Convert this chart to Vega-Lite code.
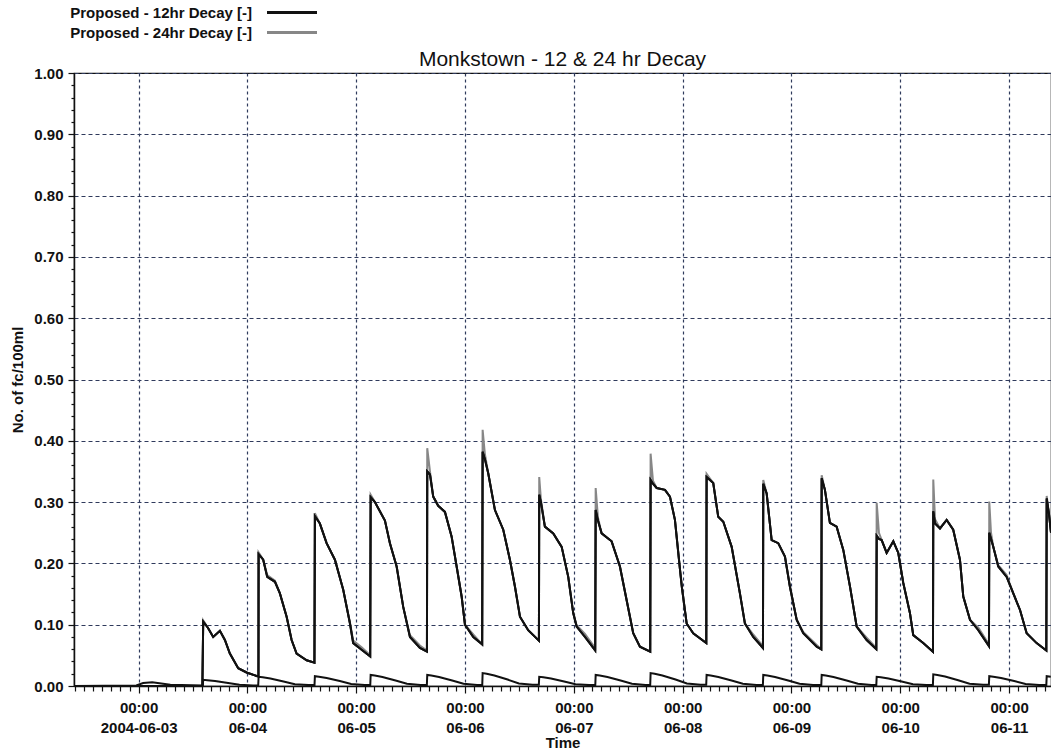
{
  "$schema": "https://vega.github.io/schema/vega-lite/v6.json",
  "autosize": {"type": "none"},
  "padding": {"left": 74, "top": 73, "right": 0, "bottom": 66},
  "width": 977,
  "height": 613,
  "background": "white",
  "title": {
    "text": "Monkstown - 12 & 24 hr Decay",
    "font": "Liberation Sans",
    "fontSize": 21,
    "fontWeight": "normal",
    "color": "#111",
    "anchor": "middle",
    "frame": "group",
    "offset": -69
  },
  "config": {
    "view": {"stroke": "#111", "strokeWidth": 1.2},
    "axis": {
      "labelFont": "Liberation Sans",
      "titleFont": "Liberation Sans",
      "labelColor": "#111",
      "titleColor": "#111",
      "tickColor": "#111",
      "domainColor": "#111"
    }
  },
  "datasets": {
    "decay": [
      {"t":"2004-06-02T09:45","d12":0,"d24":0},
      {"t":"2004-06-03T14:04","d12":0,"d24":0},
      {"t":"2004-06-03T14:15","d12":0.105,"d24":0.107},
      {"t":"2004-06-03T15:17","d12":0.095,"d24":0.095},
      {"t":"2004-06-03T16:27","d12":0.080,"d24":0.080},
      {"t":"2004-06-03T17:56","d12":0.090,"d24":0.090},
      {"t":"2004-06-03T19:02","d12":0.075,"d24":0.075},
      {"t":"2004-06-03T20:08","d12":0.053,"d24":0.053},
      {"t":"2004-06-03T21:58","d12":0.029,"d24":0.029},
      {"t":"2004-06-03T23:49","d12":0.022,"d24":0.022},
      {"t":"2004-06-04T02:10","d12":0.016,"d24":0.016},
      {"t":"2004-06-04T02:26","d12":0.016,"d24":0.016},
      {"t":"2004-06-04T02:28","d12":0.215,"d24":0.218},
      {"t":"2004-06-04T03:29","d12":0.206,"d24":0.206},
      {"t":"2004-06-04T04:22","d12":0.178,"d24":0.181},
      {"t":"2004-06-04T06:04","d12":0.170,"d24":0.172},
      {"t":"2004-06-04T07:10","d12":0.151,"d24":0.151},
      {"t":"2004-06-04T08:39","d12":0.113,"d24":0.113},
      {"t":"2004-06-04T09:45","d12":0.075,"d24":0.075},
      {"t":"2004-06-04T10:51","d12":0.053,"d24":0.053},
      {"t":"2004-06-04T13:04","d12":0.042,"d24":0.042},
      {"t":"2004-06-04T14:47","d12":0.038,"d24":0.038},
      {"t":"2004-06-04T14:53","d12":0.277,"d24":0.282},
      {"t":"2004-06-04T15:59","d12":0.265,"d24":0.265},
      {"t":"2004-06-04T17:28","d12":0.233,"d24":0.233},
      {"t":"2004-06-04T19:18","d12":0.206,"d24":0.206},
      {"t":"2004-06-04T21:08","d12":0.157,"d24":0.157},
      {"t":"2004-06-04T22:37","d12":0.102,"d24":0.104},
      {"t":"2004-06-04T23:20","d12":0.070,"d24":0.074},
      {"t":"2004-06-05T01:11","d12":0.059,"d24":0.063},
      {"t":"2004-06-05T03:05","d12":0.048,"d24":0.050},
      {"t":"2004-06-05T03:11","d12":0.308,"d24":0.312},
      {"t":"2004-06-05T04:07","d12":0.300,"d24":0.300},
      {"t":"2004-06-05T06:20","d12":0.270,"d24":0.270},
      {"t":"2004-06-05T07:26","d12":0.233,"d24":0.233},
      {"t":"2004-06-05T08:55","d12":0.195,"d24":0.195},
      {"t":"2004-06-05T10:22","d12":0.129,"d24":0.129},
      {"t":"2004-06-05T11:51","d12":0.080,"d24":0.083},
      {"t":"2004-06-05T14:03","d12":0.062,"d24":0.066},
      {"t":"2004-06-05T15:36","d12":0.056,"d24":0.058},
      {"t":"2004-06-05T15:40","d12":0.350,"d24":0.388},
      {"t":"2004-06-05T16:16","d12":0.345,"d24":0.350},
      {"t":"2004-06-05T16:59","d12":0.309,"d24":0.309},
      {"t":"2004-06-05T18:05","d12":0.294,"d24":0.294},
      {"t":"2004-06-05T19:34","d12":0.284,"d24":0.284},
      {"t":"2004-06-05T21:02","d12":0.244,"d24":0.244},
      {"t":"2004-06-05T22:09","d12":0.195,"d24":0.195},
      {"t":"2004-06-05T23:15","d12":0.146,"d24":0.146},
      {"t":"2004-06-05T23:59","d12":0.100,"d24":0.100},
      {"t":"2004-06-06T01:49","d12":0.080,"d24":0.084},
      {"t":"2004-06-06T03:47","d12":0.068,"d24":0.068},
      {"t":"2004-06-06T03:53","d12":0.382,"d24":0.418},
      {"t":"2004-06-06T04:23","d12":0.370,"d24":0.378},
      {"t":"2004-06-06T05:07","d12":0.347,"d24":0.347},
      {"t":"2004-06-06T06:36","d12":0.287,"d24":0.287},
      {"t":"2004-06-06T08:26","d12":0.255,"d24":0.255},
      {"t":"2004-06-06T09:54","d12":0.206,"d24":0.206},
      {"t":"2004-06-06T11:01","d12":0.162,"d24":0.162},
      {"t":"2004-06-06T12:07","d12":0.113,"d24":0.113},
      {"t":"2004-06-06T13:56","d12":0.091,"d24":0.091},
      {"t":"2004-06-06T16:18","d12":0.074,"d24":0.074},
      {"t":"2004-06-06T16:22","d12":0.312,"d24":0.341},
      {"t":"2004-06-06T16:44","d12":0.300,"d24":0.305},
      {"t":"2004-06-06T17:37","d12":0.260,"d24":0.260},
      {"t":"2004-06-06T19:28","d12":0.249,"d24":0.249},
      {"t":"2004-06-06T21:19","d12":0.227,"d24":0.227},
      {"t":"2004-06-06T22:46","d12":0.178,"d24":0.178},
      {"t":"2004-06-06T23:52","d12":0.119,"d24":0.119},
      {"t":"2004-06-07T00:37","d12":0.097,"d24":0.099},
      {"t":"2004-06-07T02:27","d12":0.080,"d24":0.085},
      {"t":"2004-06-07T04:43","d12":0.058,"d24":0.062},
      {"t":"2004-06-07T04:49","d12":0.287,"d24":0.323},
      {"t":"2004-06-07T05:19","d12":0.270,"d24":0.275},
      {"t":"2004-06-07T06:08","d12":0.249,"d24":0.249},
      {"t":"2004-06-07T08:20","d12":0.236,"d24":0.236},
      {"t":"2004-06-07T10:10","d12":0.195,"d24":0.195},
      {"t":"2004-06-07T11:39","d12":0.140,"d24":0.140},
      {"t":"2004-06-07T13:06","d12":0.086,"d24":0.086},
      {"t":"2004-06-07T14:35","d12":0.064,"d24":0.064},
      {"t":"2004-06-07T16:51","d12":0.056,"d24":0.056},
      {"t":"2004-06-07T16:56","d12":0.336,"d24":0.379},
      {"t":"2004-06-07T17:27","d12":0.330,"d24":0.335},
      {"t":"2004-06-07T18:16","d12":0.323,"d24":0.323},
      {"t":"2004-06-07T20:06","d12":0.320,"d24":0.320},
      {"t":"2004-06-07T21:12","d12":0.309,"d24":0.309},
      {"t":"2004-06-07T22:18","d12":0.271,"d24":0.271},
      {"t":"2004-06-07T23:25","d12":0.190,"d24":0.190},
      {"t":"2004-06-07T23:51","d12":0.160,"d24":0.160},
      {"t":"2004-06-08T00:53","d12":0.102,"d24":0.102},
      {"t":"2004-06-08T02:20","d12":0.086,"d24":0.086},
      {"t":"2004-06-08T05:13","d12":0.070,"d24":0.070},
      {"t":"2004-06-08T05:17","d12":0.341,"d24":0.346},
      {"t":"2004-06-08T06:45","d12":0.331,"d24":0.331},
      {"t":"2004-06-08T07:51","d12":0.276,"d24":0.276},
      {"t":"2004-06-08T08:58","d12":0.268,"d24":0.268},
      {"t":"2004-06-08T10:49","d12":0.227,"d24":0.227},
      {"t":"2004-06-08T12:38","d12":0.151,"d24":0.151},
      {"t":"2004-06-08T13:44","d12":0.102,"d24":0.102},
      {"t":"2004-06-08T15:34","d12":0.080,"d24":0.084},
      {"t":"2004-06-08T17:43","d12":0.062,"d24":0.065},
      {"t":"2004-06-08T17:47","d12":0.330,"d24":0.336},
      {"t":"2004-06-08T18:32","d12":0.314,"d24":0.314},
      {"t":"2004-06-08T19:38","d12":0.238,"d24":0.238},
      {"t":"2004-06-08T21:05","d12":0.233,"d24":0.233},
      {"t":"2004-06-08T22:34","d12":0.211,"d24":0.211},
      {"t":"2004-06-08T23:40","d12":0.162,"d24":0.162},
      {"t":"2004-06-09T01:09","d12":0.108,"d24":0.108},
      {"t":"2004-06-09T02:36","d12":0.086,"d24":0.088},
      {"t":"2004-06-09T05:34","d12":0.064,"d24":0.067},
      {"t":"2004-06-09T06:35","d12":0.060,"d24":0.060},
      {"t":"2004-06-09T06:40","d12":0.339,"d24":0.344},
      {"t":"2004-06-09T07:23","d12":0.320,"d24":0.320},
      {"t":"2004-06-09T08:29","d12":0.266,"d24":0.266},
      {"t":"2004-06-09T09:58","d12":0.260,"d24":0.260},
      {"t":"2004-06-09T11:26","d12":0.222,"d24":0.222},
      {"t":"2004-06-09T12:55","d12":0.162,"d24":0.162},
      {"t":"2004-06-09T14:23","d12":0.097,"d24":0.097},
      {"t":"2004-06-09T16:35","d12":0.075,"d24":0.079},
      {"t":"2004-06-09T18:43","d12":0.060,"d24":0.062},
      {"t":"2004-06-09T18:48","d12":0.245,"d24":0.299},
      {"t":"2004-06-09T19:18","d12":0.240,"d24":0.250},
      {"t":"2004-06-09T19:54","d12":0.238,"d24":0.238},
      {"t":"2004-06-09T21:00","d12":0.217,"d24":0.217},
      {"t":"2004-06-09T22:28","d12":0.236,"d24":0.236},
      {"t":"2004-06-09T23:34","d12":0.217,"d24":0.217},
      {"t":"2004-06-10T00:40","d12":0.168,"d24":0.168},
      {"t":"2004-06-10T02:08","d12":0.119,"d24":0.119},
      {"t":"2004-06-10T02:52","d12":0.083,"d24":0.083},
      {"t":"2004-06-10T05:04","d12":0.070,"d24":0.070},
      {"t":"2004-06-10T07:13","d12":0.056,"d24":0.056},
      {"t":"2004-06-10T07:17","d12":0.285,"d24":0.337},
      {"t":"2004-06-10T07:40","d12":0.265,"d24":0.272},
      {"t":"2004-06-10T08:46","d12":0.257,"d24":0.257},
      {"t":"2004-06-10T10:14","d12":0.271,"d24":0.271},
      {"t":"2004-06-10T11:41","d12":0.255,"d24":0.255},
      {"t":"2004-06-10T13:10","d12":0.206,"d24":0.206},
      {"t":"2004-06-10T13:54","d12":0.146,"d24":0.146},
      {"t":"2004-06-10T15:23","d12":0.108,"d24":0.108},
      {"t":"2004-06-10T17:13","d12":0.091,"d24":0.095},
      {"t":"2004-06-10T19:34","d12":0.065,"d24":0.068},
      {"t":"2004-06-10T19:38","d12":0.250,"d24":0.301},
      {"t":"2004-06-10T20:01","d12":0.240,"d24":0.250},
      {"t":"2004-06-10T20:31","d12":0.227,"d24":0.227},
      {"t":"2004-06-10T21:37","d12":0.195,"d24":0.197},
      {"t":"2004-06-10T23:28","d12":0.178,"d24":0.181},
      {"t":"2004-06-11T00:56","d12":0.151,"d24":0.151},
      {"t":"2004-06-11T02:25","d12":0.124,"d24":0.124},
      {"t":"2004-06-11T03:53","d12":0.086,"d24":0.086},
      {"t":"2004-06-11T06:05","d12":0.070,"d24":0.070},
      {"t":"2004-06-11T08:13","d12":0.058,"d24":0.058},
      {"t":"2004-06-11T08:18","d12":0.306,"d24":0.310},
      {"t":"2004-06-11T08:49","d12":0.280,"d24":0.280},
      {"t":"2004-06-11T09:15","d12":0.250,"d24":0.250}
    ],
    "low": [
      {"t":"2004-06-02T09:45","v":0},
      {"t":"2004-06-02T23:30","v":0.001},
      {"t":"2004-06-03T01:00","v":0.005},
      {"t":"2004-06-03T03:00","v":0.006},
      {"t":"2004-06-03T05:00","v":0.004},
      {"t":"2004-06-03T07:00","v":0.002},
      {"t":"2004-06-03T14:10","v":0.001},
      {"t":"2004-06-03T14:15","v":0.010},
      {"t":"2004-06-03T15:09","v":0.0095},
      {"t":"2004-06-03T16:51","v":0.0082},
      {"t":"2004-06-03T19:45","v":0.005},
      {"t":"2004-06-03T22:15","v":0.002},
      {"t":"2004-06-04T01:15","v":0.001},
      {"t":"2004-06-04T02:23","v":0.001},
      {"t":"2004-06-04T02:28","v":0.015},
      {"t":"2004-06-04T03:22","v":0.0143},
      {"t":"2004-06-04T05:04","v":0.0123},
      {"t":"2004-06-04T07:58","v":0.0075},
      {"t":"2004-06-04T10:28","v":0.003},
      {"t":"2004-06-04T13:28","v":0.0015},
      {"t":"2004-06-04T14:48","v":0.0015},
      {"t":"2004-06-04T14:53","v":0.016},
      {"t":"2004-06-04T15:47","v":0.0152},
      {"t":"2004-06-04T17:29","v":0.0131},
      {"t":"2004-06-04T20:23","v":0.008},
      {"t":"2004-06-04T22:53","v":0.0032},
      {"t":"2004-06-05T01:53","v":0.0016},
      {"t":"2004-06-05T03:06","v":0.0016},
      {"t":"2004-06-05T03:11","v":0.018},
      {"t":"2004-06-05T04:05","v":0.0171},
      {"t":"2004-06-05T05:47","v":0.0148},
      {"t":"2004-06-05T08:41","v":0.009},
      {"t":"2004-06-05T11:11","v":0.0036},
      {"t":"2004-06-05T14:11","v":0.0018},
      {"t":"2004-06-05T15:35","v":0.0018},
      {"t":"2004-06-05T15:40","v":0.018},
      {"t":"2004-06-05T16:34","v":0.0171},
      {"t":"2004-06-05T18:16","v":0.0148},
      {"t":"2004-06-05T21:10","v":0.009},
      {"t":"2004-06-05T23:40","v":0.0036},
      {"t":"2004-06-06T02:40","v":0.0018},
      {"t":"2004-06-06T03:48","v":0.0018},
      {"t":"2004-06-06T03:53","v":0.021},
      {"t":"2004-06-06T04:47","v":0.020},
      {"t":"2004-06-06T06:29","v":0.0172},
      {"t":"2004-06-06T09:23","v":0.0105},
      {"t":"2004-06-06T11:53","v":0.0042},
      {"t":"2004-06-06T14:53","v":0.002},
      {"t":"2004-06-06T16:17","v":0.002},
      {"t":"2004-06-06T16:22","v":0.015},
      {"t":"2004-06-06T17:16","v":0.0143},
      {"t":"2004-06-06T18:58","v":0.0123},
      {"t":"2004-06-06T21:52","v":0.0075},
      {"t":"2004-06-07T00:22","v":0.003},
      {"t":"2004-06-07T03:22","v":0.0015},
      {"t":"2004-06-07T04:44","v":0.0015},
      {"t":"2004-06-07T04:49","v":0.018},
      {"t":"2004-06-07T05:43","v":0.0171},
      {"t":"2004-06-07T07:25","v":0.0148},
      {"t":"2004-06-07T10:19","v":0.009},
      {"t":"2004-06-07T12:49","v":0.0036},
      {"t":"2004-06-07T15:49","v":0.0018},
      {"t":"2004-06-07T16:51","v":0.0018},
      {"t":"2004-06-07T16:56","v":0.021},
      {"t":"2004-06-07T17:50","v":0.020},
      {"t":"2004-06-07T19:32","v":0.0172},
      {"t":"2004-06-07T22:26","v":0.0105},
      {"t":"2004-06-08T00:56","v":0.0042},
      {"t":"2004-06-08T03:56","v":0.002},
      {"t":"2004-06-08T05:12","v":0.002},
      {"t":"2004-06-08T05:17","v":0.018},
      {"t":"2004-06-08T06:11","v":0.0171},
      {"t":"2004-06-08T07:53","v":0.0148},
      {"t":"2004-06-08T10:47","v":0.009},
      {"t":"2004-06-08T13:17","v":0.0036},
      {"t":"2004-06-08T16:17","v":0.0018},
      {"t":"2004-06-08T17:42","v":0.0018},
      {"t":"2004-06-08T17:47","v":0.018},
      {"t":"2004-06-08T18:41","v":0.0171},
      {"t":"2004-06-08T20:23","v":0.0148},
      {"t":"2004-06-08T23:17","v":0.009},
      {"t":"2004-06-09T01:47","v":0.0036},
      {"t":"2004-06-09T04:47","v":0.0018},
      {"t":"2004-06-09T06:35","v":0.0018},
      {"t":"2004-06-09T06:40","v":0.018},
      {"t":"2004-06-09T07:34","v":0.0171},
      {"t":"2004-06-09T09:16","v":0.0148},
      {"t":"2004-06-09T12:10","v":0.009},
      {"t":"2004-06-09T14:40","v":0.0036},
      {"t":"2004-06-09T17:40","v":0.0018},
      {"t":"2004-06-09T18:43","v":0.0018},
      {"t":"2004-06-09T18:48","v":0.015},
      {"t":"2004-06-09T19:42","v":0.0143},
      {"t":"2004-06-09T21:24","v":0.0123},
      {"t":"2004-06-10T00:18","v":0.0075},
      {"t":"2004-06-10T02:48","v":0.003},
      {"t":"2004-06-10T05:48","v":0.0015},
      {"t":"2004-06-10T07:12","v":0.0015},
      {"t":"2004-06-10T07:17","v":0.019},
      {"t":"2004-06-10T08:11","v":0.018},
      {"t":"2004-06-10T09:53","v":0.0156},
      {"t":"2004-06-10T12:47","v":0.0095},
      {"t":"2004-06-10T15:17","v":0.0038},
      {"t":"2004-06-10T18:17","v":0.0019},
      {"t":"2004-06-10T19:33","v":0.0019},
      {"t":"2004-06-10T19:38","v":0.016},
      {"t":"2004-06-10T20:32","v":0.0152},
      {"t":"2004-06-10T22:14","v":0.0131},
      {"t":"2004-06-11T01:08","v":0.008},
      {"t":"2004-06-11T03:38","v":0.0032},
      {"t":"2004-06-11T06:38","v":0.0016},
      {"t":"2004-06-11T08:13","v":0.0016},
      {"t":"2004-06-11T08:18","v":0.016},
      {"t":"2004-06-11T09:12","v":0.0152}
    ]
  },
  "resolve": {"axis": {"x": "independent", "y": "independent"}},
  "layer": [
    {
      "data": {"name": "decay"},
      "transform": [{"fold": ["d24", "d12"], "as": ["series", "val"]}],
      "mark": {"type": "line", "strokeWidth": 2, "clip": true},
      "encoding": {
        "x": {
          "field": "t", "type": "temporal",
          "scale": {"domain": ["2004-06-02T09:45", "2004-06-11T09:15"], "nice": false},
          "axis": {
            "orient": "bottom",
            "title": "Time",
            "titleFontSize": 15,
            "titleFontWeight": "bold",
            "titlePadding": 0,
            "values": [
              {"year": 2004, "month": 6, "date": 3}, {"year": 2004, "month": 6, "date": 4}, {"year": 2004, "month": 6, "date": 5},
              {"year": 2004, "month": 6, "date": 6}, {"year": 2004, "month": 6, "date": 7}, {"year": 2004, "month": 6, "date": 8},
              {"year": 2004, "month": 6, "date": 9}, {"year": 2004, "month": 6, "date": 10}, {"year": 2004, "month": 6, "date": 11}
            ],
            "labelExpr": "[timeFormat(datum.value, '%H:%M'), date(datum.value) == 3 ? timeFormat(datum.value, '%Y-%m-%d') : timeFormat(datum.value, '%m-%d')]",
            "labelFontSize": 15,
            "labelFontWeight": "bold",
            "labelLineHeight": 20,
            "labelPadding": 7,
            "labelFlush": false,
            "labelOverlap": false,
            "tickSize": 7,
            "tickWidth": 1.2,
            "domainWidth": 1.5,
            "grid": true,
            "gridColor": "#2f3a5c",
            "gridDash": [3, 3],
            "gridWidth": 1.2
          }
        },
        "y": {
          "field": "val", "type": "quantitative",
          "scale": {"domain": [0, 1], "nice": false},
          "axis": {
            "orient": "left",
            "title": "No. of fc/100ml",
            "titleFontSize": 15,
            "titleFontWeight": "bold",
            "titlePadding": 8,
            "values": [0, 0.1, 0.2, 0.3, 0.4, 0.5, 0.6, 0.7, 0.8, 0.9, 1.0],
            "format": ".2f",
            "labelFontSize": 15,
            "labelFontWeight": "bold",
            "labelPadding": 5,
            "tickSize": 6,
            "tickWidth": 1.2,
            "domainWidth": 1.5,
            "grid": true,
            "gridColor": "#2f3a5c",
            "gridDash": [4, 3],
            "gridWidth": 1.2
          }
        },
        "color": {
          "field": "series",
          "type": "nominal",
          "scale": {"domain": ["d12", "d24"], "range": ["#111111", "#878787"]},
          "legend": {
            "orient": "none",
            "legendX": 206.5,
            "legendY": -72,
            "title": null,
            "padding": 0,
            "symbolType": "M-2.5,0H2.5",
            "symbolSize": 400,
            "symbolStrokeWidth": 3,
            "rowPadding": 0,
            "labelAlign": "right",
            "labelOffset": -51.5,
            "labelExpr": "datum.label == 'd12' ? 'Proposed - 12hr Decay [-]' : 'Proposed - 24hr Decay [-]'",
            "labelFont": "Liberation Sans",
            "labelFontWeight": "bold",
            "labelFontSize": 15,
            "labelColor": "#111",
            "labelLimit": 400
          }
        }
      }
    },
    {
      "data": {"name": "decay"},
      "mark": {"type": "line", "strokeWidth": 2, "clip": true, "color": "#111111"},
      "encoding": {
        "x": {"field": "t", "type": "temporal", "axis": null},
        "y": {"field": "d12", "type": "quantitative", "axis": null}
      }
    },
    {
      "data": {"name": "low"},
      "mark": {"type": "line", "strokeWidth": 2, "clip": true, "color": "#111111"},
      "encoding": {
        "x": {
          "field": "t", "type": "temporal",
          "axis": {
            "orient": "bottom", "title": null, "labels": false, "domain": false, "grid": false, "tickSize": 5, "tickWidth": 1.2,
            "values": [
              {"year":2004,"month":6,"date":2,"hours":10},{"year":2004,"month":6,"date":2,"hours":12},{"year":2004,"month":6,"date":2,"hours":14},{"year":2004,"month":6,"date":2,"hours":16},{"year":2004,"month":6,"date":2,"hours":18},{"year":2004,"month":6,"date":2,"hours":20},{"year":2004,"month":6,"date":2,"hours":22},
              {"year":2004,"month":6,"date":3,"hours":2},{"year":2004,"month":6,"date":3,"hours":4},{"year":2004,"month":6,"date":3,"hours":6},{"year":2004,"month":6,"date":3,"hours":8},{"year":2004,"month":6,"date":3,"hours":10},{"year":2004,"month":6,"date":3,"hours":12},{"year":2004,"month":6,"date":3,"hours":14},{"year":2004,"month":6,"date":3,"hours":16},{"year":2004,"month":6,"date":3,"hours":18},{"year":2004,"month":6,"date":3,"hours":20},{"year":2004,"month":6,"date":3,"hours":22},
              {"year":2004,"month":6,"date":4,"hours":2},{"year":2004,"month":6,"date":4,"hours":4},{"year":2004,"month":6,"date":4,"hours":6},{"year":2004,"month":6,"date":4,"hours":8},{"year":2004,"month":6,"date":4,"hours":10},{"year":2004,"month":6,"date":4,"hours":12},{"year":2004,"month":6,"date":4,"hours":14},{"year":2004,"month":6,"date":4,"hours":16},{"year":2004,"month":6,"date":4,"hours":18},{"year":2004,"month":6,"date":4,"hours":20},{"year":2004,"month":6,"date":4,"hours":22},
              {"year":2004,"month":6,"date":5,"hours":2},{"year":2004,"month":6,"date":5,"hours":4},{"year":2004,"month":6,"date":5,"hours":6},{"year":2004,"month":6,"date":5,"hours":8},{"year":2004,"month":6,"date":5,"hours":10},{"year":2004,"month":6,"date":5,"hours":12},{"year":2004,"month":6,"date":5,"hours":14},{"year":2004,"month":6,"date":5,"hours":16},{"year":2004,"month":6,"date":5,"hours":18},{"year":2004,"month":6,"date":5,"hours":20},{"year":2004,"month":6,"date":5,"hours":22},
              {"year":2004,"month":6,"date":6,"hours":2},{"year":2004,"month":6,"date":6,"hours":4},{"year":2004,"month":6,"date":6,"hours":6},{"year":2004,"month":6,"date":6,"hours":8},{"year":2004,"month":6,"date":6,"hours":10},{"year":2004,"month":6,"date":6,"hours":12},{"year":2004,"month":6,"date":6,"hours":14},{"year":2004,"month":6,"date":6,"hours":16},{"year":2004,"month":6,"date":6,"hours":18},{"year":2004,"month":6,"date":6,"hours":20},{"year":2004,"month":6,"date":6,"hours":22},
              {"year":2004,"month":6,"date":7,"hours":2},{"year":2004,"month":6,"date":7,"hours":4},{"year":2004,"month":6,"date":7,"hours":6},{"year":2004,"month":6,"date":7,"hours":8},{"year":2004,"month":6,"date":7,"hours":10},{"year":2004,"month":6,"date":7,"hours":12},{"year":2004,"month":6,"date":7,"hours":14},{"year":2004,"month":6,"date":7,"hours":16},{"year":2004,"month":6,"date":7,"hours":18},{"year":2004,"month":6,"date":7,"hours":20},{"year":2004,"month":6,"date":7,"hours":22},
              {"year":2004,"month":6,"date":8,"hours":2},{"year":2004,"month":6,"date":8,"hours":4},{"year":2004,"month":6,"date":8,"hours":6},{"year":2004,"month":6,"date":8,"hours":8},{"year":2004,"month":6,"date":8,"hours":10},{"year":2004,"month":6,"date":8,"hours":12},{"year":2004,"month":6,"date":8,"hours":14},{"year":2004,"month":6,"date":8,"hours":16},{"year":2004,"month":6,"date":8,"hours":18},{"year":2004,"month":6,"date":8,"hours":20},{"year":2004,"month":6,"date":8,"hours":22},
              {"year":2004,"month":6,"date":9,"hours":2},{"year":2004,"month":6,"date":9,"hours":4},{"year":2004,"month":6,"date":9,"hours":6},{"year":2004,"month":6,"date":9,"hours":8},{"year":2004,"month":6,"date":9,"hours":10},{"year":2004,"month":6,"date":9,"hours":12},{"year":2004,"month":6,"date":9,"hours":14},{"year":2004,"month":6,"date":9,"hours":16},{"year":2004,"month":6,"date":9,"hours":18},{"year":2004,"month":6,"date":9,"hours":20},{"year":2004,"month":6,"date":9,"hours":22},
              {"year":2004,"month":6,"date":10,"hours":2},{"year":2004,"month":6,"date":10,"hours":4},{"year":2004,"month":6,"date":10,"hours":6},{"year":2004,"month":6,"date":10,"hours":8},{"year":2004,"month":6,"date":10,"hours":10},{"year":2004,"month":6,"date":10,"hours":12},{"year":2004,"month":6,"date":10,"hours":14},{"year":2004,"month":6,"date":10,"hours":16},{"year":2004,"month":6,"date":10,"hours":18},{"year":2004,"month":6,"date":10,"hours":20},{"year":2004,"month":6,"date":10,"hours":22},
              {"year":2004,"month":6,"date":11,"hours":2},{"year":2004,"month":6,"date":11,"hours":4},{"year":2004,"month":6,"date":11,"hours":6},{"year":2004,"month":6,"date":11,"hours":8}
            ]
          }
        },
        "y": {
          "field": "v", "type": "quantitative",
          "axis": {"orient": "left", "title": null, "labels": false, "domain": false, "grid": false, "tickSize": 3, "tickWidth": 1.2,
            "values": [0.02, 0.04, 0.06, 0.08, 0.12, 0.14, 0.16, 0.18, 0.22, 0.24, 0.26, 0.28, 0.32, 0.34, 0.36, 0.38, 0.42, 0.44, 0.46, 0.48, 0.52, 0.54, 0.56, 0.58, 0.62, 0.64, 0.66, 0.68, 0.72, 0.74, 0.76, 0.78, 0.82, 0.84, 0.86, 0.88, 0.92, 0.94, 0.96, 0.98]}
        }
      }
    }
  ]
}
